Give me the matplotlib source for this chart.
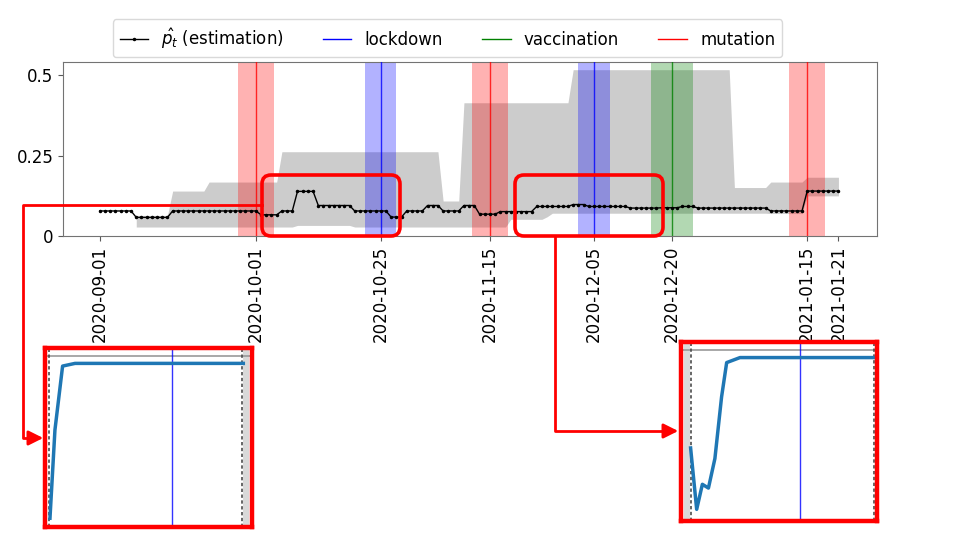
import numpy as np
import pandas as pd
import matplotlib
matplotlib.use('Agg')
import matplotlib.pyplot as plt
from matplotlib.patches import FancyBboxPatch
from matplotlib.lines import Line2D

# daily estimate of p_t, from 2020-09-01
p_hat = ([0.078] * 7 + [0.058] * 7 + [0.078] * 17 + [0.066] * 4 + [0.078] * 3
         + [0.139] * 4 + [0.095] * 7 + [0.078] * 7 + [0.059] * 3 + [0.078] * 4
         + [0.095] * 3 + [0.078] * 4 + [0.095] * 3 + [0.068] * 4 + [0.076] * 7
         + [0.092] * 7 + [0.098] * 3 + [0.092] * 8 + [0.087] * 6 + [0.088] * 4
         + [0.092] * 3 + [0.087] * 14 + [0.078] * 7 + [0.140] * 7)

# confidence band (starts on day 7)
band_upper = ([np.nan] * 7 + [0.064] * 7 + [0.140] * 7 + [0.168] * 14 + [0.2625] * 31
              + [0.109] * 4 + [0.415] * 21 + [0.518] * 31 + [0.151] * 7 + [0.168] * 7
              + [0.183] * 7)
band_lower = ([np.nan] * 7 + [0.028] * 31 + [0.033] * 11 + [0.028] * 30 + [0.052] * 7
              + [0.060] * 1 + [0.071] * 42 + [0.070] * 7 + [0.125] * 7)

dates = pd.date_range('2020-09-01', periods=len(p_hat), freq='D')

# events
mutation_dates = ['2020-10-01', '2020-11-15', '2021-01-15']
lockdown_dates = ['2020-10-25', '2020-12-05']
vaccination_dates = ['2020-12-20']

tick_dates = ['2020-09-01', '2020-10-01', '2020-10-25', '2020-11-15',
              '2020-12-05', '2020-12-20', '2021-01-15', '2021-01-21']

# zoomed-in convergence curves (inset coordinates)
left_x = [0.024, 0.048, 0.085, 0.145, 0.958]
left_y = [0.049, 0.542, 0.899, 0.914, 0.914]
right_x = [0.049, 0.080, 0.109, 0.140, 0.173, 0.207, 0.233, 0.301, 0.981]
right_y = [0.408, 0.065, 0.205, 0.184, 0.349, 0.693, 0.885, 0.913, 0.913]

fig = plt.figure(figsize=(9.6, 5.4), dpi=100)
ax = fig.add_axes([63 / 960, 1 - 236 / 540, 814 / 960, 174 / 540])

ax.fill_between(dates, band_lower, band_upper, color='0.8', lw=0, zorder=1)


def events(day_list, color, half):
    for d in day_list:
        d = pd.Timestamp(d)
        ax.axvspan(d - pd.Timedelta(days=half), d + pd.Timedelta(days=half),
                   color=color, alpha=0.3, lw=0, zorder=2)
        ax.axvline(d, color=color, lw=1, alpha=0.8, zorder=3)


events(mutation_dates, 'red', 3.5)
events(lockdown_dates, 'blue', 3.0)
events(vaccination_dates, 'green', 4.0)

ax.plot(dates, p_hat, color='black', lw=1, marker='.', ms=3, zorder=4)

ax.set_ylim(0, 0.542)
ax.set_yticks([0, 0.25, 0.5])
ax.set_yticklabels(['0', '0.25', '0.5'], fontsize=12)
ax.set_xlim(pd.Timestamp('2020-08-25') - pd.Timedelta(hours=2),
            pd.Timestamp('2021-01-28') + pd.Timedelta(hours=10))
ax.set_xticks([pd.Timestamp(t) for t in tick_dates])
ax.set_xticklabels(tick_dates, rotation=90, fontsize=12)
for s in ax.spines.values():
    s.set_color('0.45')
ax.tick_params(colors='0.35', labelcolor='black')

handles = [Line2D([], [], color='black', lw=1, marker='.', ms=3),
           Line2D([], [], color='blue', lw=1),
           Line2D([], [], color='green', lw=1),
           Line2D([], [], color='red', lw=1)]
labels = [r'$\hat{p_t}$ (estimation)', 'lockdown', 'vaccination', 'mutation']
fig.legend(handles, labels, loc='center', bbox_to_anchor=(0.466, 0.929), ncol=4,
           fontsize=12, handlelength=1.7, columnspacing=2.35, framealpha=1,
           edgecolor='0.85')


def inset(rect, xs, ys, dash_l, dash_r, shade, vline):
    ia = fig.add_axes(rect, zorder=5)
    ia.set_xlim(0, 1)
    ia.set_ylim(0, 1)
    ia.set_xticks([])
    ia.set_yticks([])
    for s in ia.spines.values():
        s.set_color('red')
        s.set_linewidth(3.2)
    ia.axvspan(shade[0], shade[1], color='0.85', lw=0)
    ia.axhline(0.955, color='0.6', lw=1.2)
    ia.axvline(dash_l, color='0.3', ls='--', lw=1.2, dashes=(2, 1.5))
    ia.axvline(dash_r, color='0.3', ls='--', lw=1.2, dashes=(2, 1.5))
    ia.axvline(vline, color='blue', lw=1, alpha=0.8)
    ia.plot(xs, ys, color='#1f77b4', lw=2.5)
    return ia


inset([45 / 960, 13 / 540, 207 / 960, 179 / 540], left_x, left_y,
      0.021, 0.954, (0.956, 0.985), 0.612)
inset([681 / 960, 19 / 540, 196 / 960, 179 / 540], right_x, right_y,
      0.049, 0.985, (0.017, 0.046), 0.607)

# overlay for highlight boxes and connectors (pixel coords)
ov = fig.add_axes([0, 0, 1, 1], zorder=10)
ov.set_xlim(0, 960)
ov.set_ylim(540, 0)
ov.axis('off')
ov.patch.set_alpha(0)

for (x0, y0, w, h) in [(262, 175, 138, 61), (515, 175, 148, 61)]:
    ov.add_patch(FancyBboxPatch((x0, y0), w, h,
                                boxstyle='round,pad=0,rounding_size=9',
                                ec='red', fc='none', lw=2.6))

ov.plot([262, 23, 23, 32], [205, 205, 438, 438], color='red', lw=2)
ov.annotate('', xy=(46, 438), xytext=(28, 438),
            arrowprops=dict(arrowstyle='-|>', color='red', lw=2, mutation_scale=22))
ov.plot([555, 555, 668], [237, 431, 431], color='red', lw=2)
ov.annotate('', xy=(681, 431), xytext=(662, 431),
            arrowprops=dict(arrowstyle='-|>', color='red', lw=2, mutation_scale=22))

fig.savefig('out.png', dpi=100)
